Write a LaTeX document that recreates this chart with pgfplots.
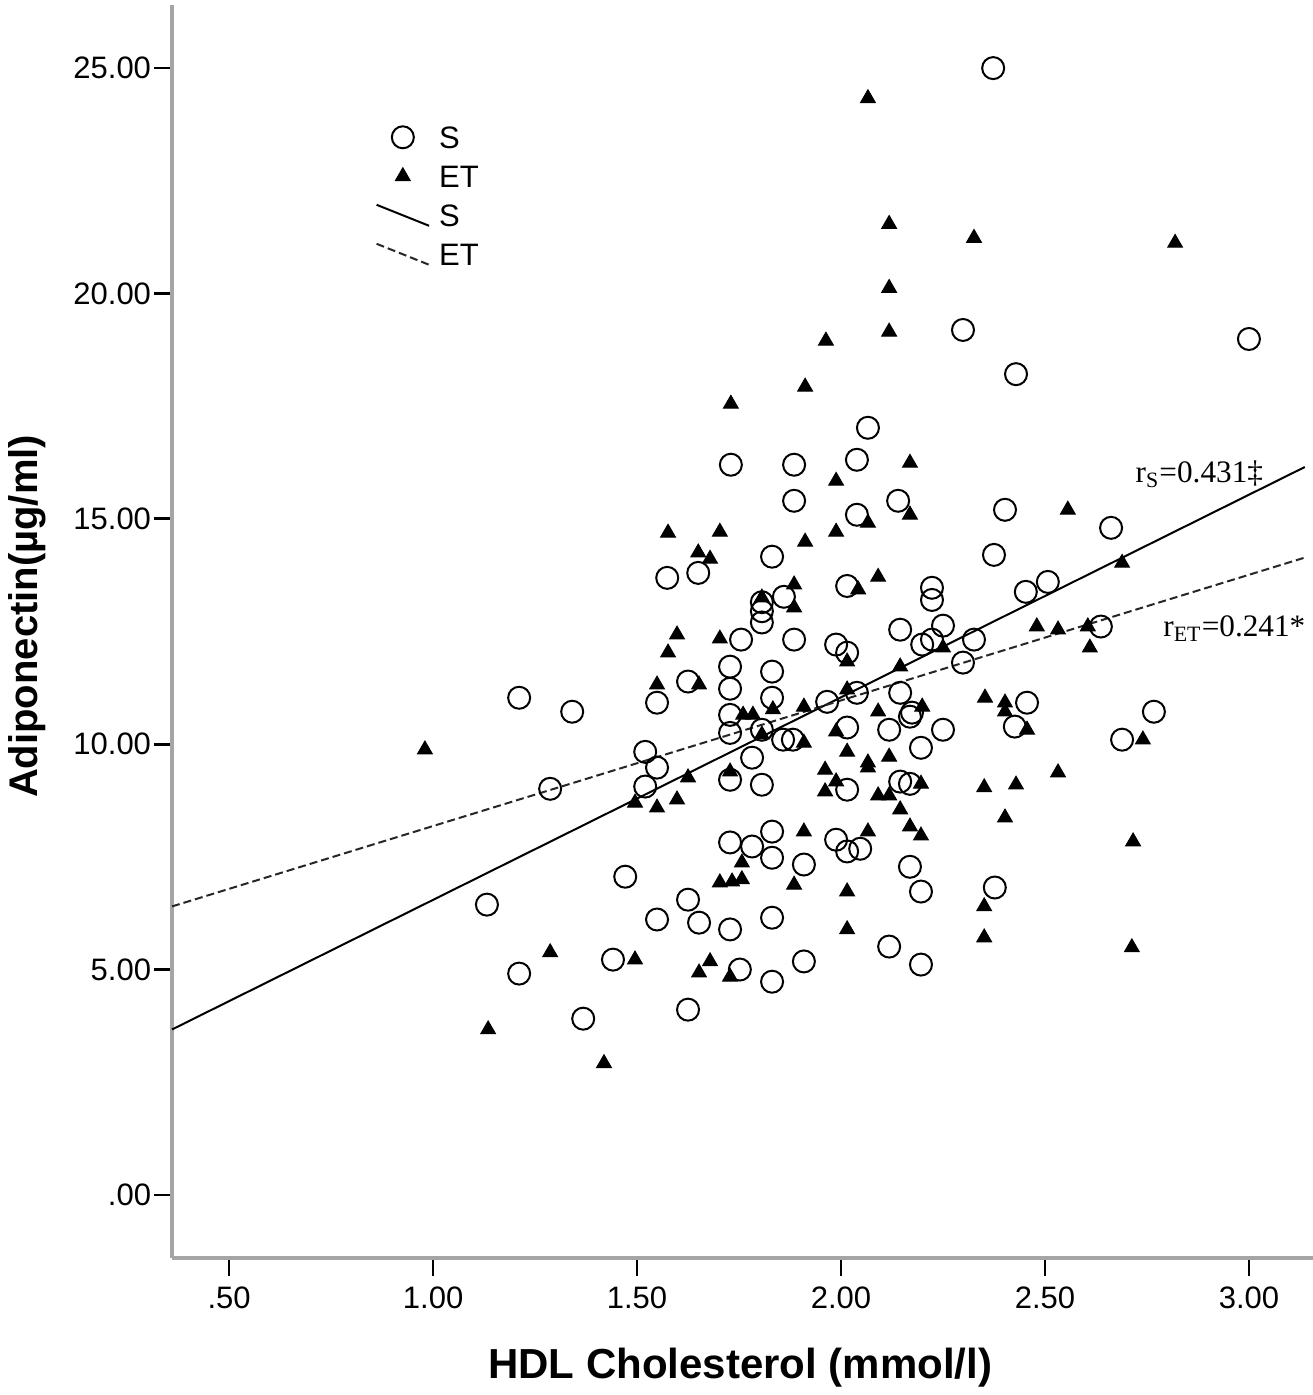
\documentclass[border=0pt]{standalone}
\usepackage{pgfplots}
\pgfplotsset{compat=1.18}
\usepackage{fontspec}
\setmainfont{Liberation Sans}
\newfontfamily\seriffont{Liberation Serif}
\definecolor{axisgray}{RGB}{165,165,165}
\pgfplotsset{
  markleg/.style={legend image code/.code={\draw[mark repeat=2,mark phase=2,##1] plot coordinates {(0pt,0pt)(10.5pt,0pt)(21pt,0pt)};}},
  lineleg/.style={legend image code/.code={\draw[##1] (0pt,4.2pt) -- (21pt,-4.2pt);}},
}
\begin{document}
\begin{tikzpicture}
\path[use as bounding box] (0pt,0pt) rectangle (525.2pt,558pt);
\begin{axis}[
  at={(68.8pt,54.8pt)}, anchor=south west,
  width=456.4pt, height=501.2pt, scale only axis,
  xmin=0.36, xmax=3.157, ymin=-1.40, ymax=26.40,
  axis lines=left,
  axis line style={-, draw=axisgray, line width=1.6pt},
  clip=false,
  xtick={0.5,1,1.5,2,2.5,3},
  xticklabels={.50,1.00,1.50,2.00,2.50,3.00},
  ytick={0,5,10,15,20,25},
  yticklabels={.00,5.00,10.00,15.00,20.00,25.00},
  tick align=outside,
  major tick length=7.2pt,
  xtick style={black, line width=0.5pt},
  ytick style={black, line width=1.1pt},
  tick label style={font=\fontsize{12.4}{14}\selectfont},
  yticklabel style={inner sep=1pt},
  xticklabel style={inner sep=4pt},
  xlabel={\textbf{HDL Cholesterol (mmol/l)}},
  ylabel={\textbf{Adiponectin(µg/ml)}},
  xlabel style={at={(axis description cs:0.498,0)}, anchor=center, yshift=-44pt, font=\fontsize{16.8}{18}\selectfont},
  ylabel style={at={(axis description cs:-0.127,0.512)}, anchor=center, font=\fontsize{16}{18}\selectfont},
  legend cell align=left,
  legend style={at={(axis description cs:0.178,0.9074)}, anchor=north west, draw=none, fill=none,
    inner sep=0pt, row sep=3pt, column sep=1.6pt,
    nodes={inner sep=2pt, text height=8.6pt, text depth=0pt, font=\fontsize{12.4}{14}\selectfont}},
]
\addplot[only marks, mark=o, mark size=4.4pt, mark options={line width=0.8pt, draw=black}, markleg]
coordinates {
(2.373,25.0) (2.299,19.19) (3.0,18.99) (2.429,18.21) (2.066,17.02)
(1.730,16.20) (1.885,16.20) (2.039,16.31) (1.885,15.40) (2.140,15.40)
(2.039,15.09) (2.402,15.20) (2.662,14.80) (1.831,14.16) (2.375,14.20)
(1.574,13.69) (1.650,13.80) (1.860,13.27) (2.015,13.51) (2.223,13.47)
(2.223,13.20) (2.453,13.38) (2.507,13.60) (1.806,13.15) (1.806,12.95)
(1.806,12.70) (1.755,12.32) (1.885,12.32) (1.728,11.72) (1.728,11.23)
(1.831,11.61) (1.831,11.03) (1.625,11.39) (1.549,10.92) (1.988,12.21)
(2.015,12.03) (1.966,10.94) (1.728,10.65) (2.145,12.54) (2.250,12.63)
(2.199,12.21) (2.223,12.32) (2.326,12.32) (2.637,12.61) (2.299,11.81)
(2.039,11.14) (2.145,11.14) (2.456,10.92) (2.174,10.70) (1.728,10.25)
(1.806,10.32) (1.858,10.10) (1.882,10.10) (2.015,10.37) (1.520,9.83)
(1.549,9.48) (1.520,9.06) (1.782,9.70) (1.728,9.21) (1.806,9.10)
(2.015,8.99) (1.471,7.06) (1.625,6.55) (1.549,6.11) (1.652,6.04)
(1.728,5.89) (1.831,6.15) (1.728,7.82) (1.782,7.73) (1.831,8.06)
(1.831,7.48) (1.909,7.33) (1.988,7.88) (2.015,7.62) (2.047,7.68)
(1.441,5.22) (1.752,5.00) (1.831,4.73) (1.909,5.18) (1.625,4.11)
(2.118,10.32) (2.169,10.61) (2.250,10.32) (2.196,9.92) (2.145,9.17)
(2.169,9.12) (2.426,10.39) (2.169,7.28) (2.196,6.73) (2.377,6.82)
(2.118,5.51) (2.196,5.11) (1.211,11.03) (1.341,10.72) (1.287,9.01)
(1.132,6.44) (1.211,4.91) (1.368,3.91) (2.689,10.10) (2.767,10.72)
};
\addlegendentry{S}
\addplot[only marks, mark=triangle*, mark size=3.4pt, mark options={fill=black, draw=black}, markleg]
coordinates {
(2.066,24.33) (2.118,21.54) (2.326,21.23) (2.819,21.12) (2.118,20.12)
(2.118,19.15) (1.963,18.95) (1.912,17.93) (1.730,17.55) (2.169,16.24)
(1.988,15.84) (2.556,15.20) (2.169,15.09) (2.066,14.91) (2.091,13.71)
(2.042,13.43) (2.480,12.61) (2.532,12.54) (2.605,12.61) (2.610,12.14)
(2.145,11.72) (2.250,12.14) (2.353,11.03) (2.402,10.92) (2.402,10.72)
(2.091,10.72) (2.199,10.83) (2.689,14.02) (1.576,14.69) (1.703,14.71)
(1.988,14.71) (1.912,14.49) (1.650,14.25) (1.679,14.11) (1.885,13.54)
(1.885,13.03) (1.806,13.25) (1.598,12.43) (1.703,12.34) (1.576,12.03)
(1.549,11.32) (1.652,11.32) (2.015,11.83) (2.015,11.21) (1.833,10.77)
(1.760,10.65) (1.784,10.65) (1.909,10.83) (1.806,10.21) (1.909,10.03)
(1.988,10.28) (2.015,9.83) (1.961,9.43) (1.961,8.95) (1.988,9.17)
(1.625,9.26) (1.728,9.39) (1.495,8.70) (1.549,8.59) (1.598,8.77)
(1.909,8.06) (1.757,7.37) (1.703,6.93) (1.733,6.95) (1.757,7.00)
(1.885,6.88) (2.015,6.73) (2.015,5.89) (1.495,5.22) (1.679,5.18)
(1.652,4.93) (1.728,4.84) (2.456,10.32) (2.066,9.59) (2.118,9.72)
(2.066,9.48) (2.091,8.86) (2.118,8.86) (2.196,9.12) (2.145,8.55)
(2.169,8.17) (2.196,7.97) (2.066,8.06) (2.351,9.04) (2.429,9.10)
(2.402,8.37) (2.532,9.37) (2.351,6.40) (2.351,5.71) (0.980,9.88)
(1.135,3.67) (1.287,5.38) (1.419,2.92) (2.740,10.10) (2.716,7.84)
(2.713,5.49)
};
\addlegendentry{ET}
\addplot[black, line width=0.8pt, no marks, lineleg]
coordinates {(0.36,3.67) (3.137,16.15)};
\addlegendentry{S}
\addplot[black!85, line width=0.8pt, no marks, dash pattern=on 3.2pt off 1.6pt, lineleg]
coordinates {(0.36,6.40) (3.137,14.14)};
\addlegendentry{ET}
\node[anchor=base west, inner sep=0pt, font=\seriffont\fontsize{12.5}{14}\selectfont] at (axis cs:2.721,15.80) {r\textsubscript{S}=0.431‡};
\node[anchor=base west, inner sep=0pt, font=\seriffont\fontsize{12.5}{14}\selectfont] at (axis cs:2.789,12.38) {r\textsubscript{ET}=0.241*};
\end{axis}
\end{tikzpicture}
\end{document}
